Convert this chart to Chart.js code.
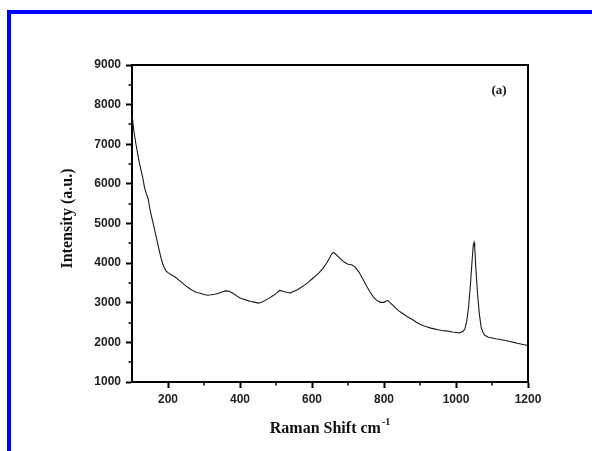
<!DOCTYPE html>
<html>
<head>
<meta charset="utf-8">
<script src="https://cdn.jsdelivr.net/npm/chart.js@4.4.1/dist/chart.umd.min.js"></script>
<style>
  html, body { margin: 0; padding: 0; background: #fff; }
  #wrap { position: relative; width: 592px; height: 451px; overflow: hidden; }
  .blue { position: absolute; background: #0000ff; }
  #frameTop { left: 7px; top: 10px; width: 585px; height: 4px; }
  #frameLeft { left: 7px; top: 10px; width: 4px; height: 441px; }
  #ramanChart { position: absolute; left: 0; top: 0; }
</style>
</head>
<body>
<div id="wrap">
  <div id="frameTop" class="blue"></div>
  <div id="frameLeft" class="blue"></div>
  <canvas id="ramanChart" width="592" height="451"></canvas>
</div>
<script>
  'use strict';

  // Raman shift (cm-1) and intensity (a.u.)
  const shifts = [
    100, 105, 110, 115, 120, 125, 130, 135, 140, 145, 150, 155, 160, 165, 170, 175,
    180, 185, 190, 195, 200, 210, 220, 230, 240, 250, 260, 270, 280, 290, 300, 310,
    320, 330, 340, 350, 360, 370, 380, 390, 400, 410, 420, 430, 440, 450, 460, 470,
    480, 490, 500, 510, 520, 530, 540, 550, 560, 570, 580, 590, 600, 610, 620, 630,
    640, 650, 655, 660, 665, 670, 680, 690, 700, 710, 720, 730, 740, 750, 760, 770,
    780, 790, 800, 810, 820, 830, 840, 850, 860, 870, 880, 890, 900, 910, 920, 930,
    940, 950, 960, 970, 980, 990, 1000, 1010, 1020, 1025, 1030, 1035, 1040, 1045,
    1048, 1050, 1052, 1055, 1060, 1065, 1070, 1075, 1080, 1090, 1100, 1110, 1120,
    1130, 1140, 1150, 1160, 1170, 1180, 1190, 1200
  ];
  const intensity = [
    7750, 7350, 7050, 6800, 6550, 6350, 6150, 5900, 5750, 5620, 5350, 5150, 4950, 4750, 4550, 4350,
    4150, 3990, 3880, 3800, 3760, 3700, 3650, 3570, 3500, 3420, 3360, 3300, 3260, 3240, 3210, 3190,
    3200, 3215, 3240, 3270, 3300, 3290, 3240, 3180, 3120, 3090, 3060, 3030, 3015, 2990, 3010, 3060,
    3110, 3170, 3230, 3310, 3290, 3260, 3250, 3290, 3330, 3390, 3450, 3520, 3600, 3680, 3760, 3860,
    3990, 4150, 4240, 4270, 4230, 4190, 4100, 4020, 3970, 3960, 3900, 3780, 3620, 3450, 3290, 3150,
    3060, 3010, 3010, 3060, 2980, 2890, 2800, 2740, 2680, 2620, 2570, 2510, 2460, 2420, 2390, 2360,
    2340, 2320, 2300, 2290, 2280, 2260, 2250, 2240, 2280, 2350, 2550, 2900, 3450, 4100,
    4450, 4520, 4400, 3900, 3200, 2700, 2380, 2250, 2180, 2130, 2110, 2090, 2080,
    2060, 2040, 2020, 2000, 1980, 1960, 1940, 1920
  ];

  // Labelled (major) and unlabelled (minor) ticks
  const xTicks = [200, 400, 600, 800, 1000, 1200];
  const xMinorTicks = [300, 500, 700, 900, 1100];
  const yTicks = [1000, 2000, 3000, 4000, 5000, 6000, 7000, 8000, 9000];
  const yMinorTicks = [1500, 2500, 3500, 4500, 5500, 6500, 7500, 8500];

  const tickFont = { family: 'Liberation Sans, Arial, sans-serif', size: 12, weight: 'bold' };
  const serif = '"Liberation Serif", "Times New Roman", serif';

  // Minor ticks, closed frame and the serif labels
  const decorPlugin = {
    id: 'decor',
    afterDraw: function(chart) {
      const ctx = chart.ctx;
      const area = chart.chartArea;
      const xs = chart.scales.x;
      const ys = chart.scales.y;

      ctx.save();
      ctx.strokeStyle = '#000';
      ctx.lineWidth = 1.5;
      xMinorTicks.forEach(v => {
        const px = Math.round(xs.getPixelForValue(v));
        ctx.beginPath();
        ctx.moveTo(px, area.bottom);
        ctx.lineTo(px, area.bottom + 3.5);
        ctx.stroke();
      });
      yMinorTicks.forEach(v => {
        const py = Math.round(ys.getPixelForValue(v));
        ctx.beginPath();
        ctx.moveTo(area.left, py);
        ctx.lineTo(area.left - 3.5, py);
        ctx.stroke();
      });

      // top and right edges of the box
      ctx.lineWidth = 2;
      ctx.beginPath();
      ctx.moveTo(area.left, area.top);
      ctx.lineTo(area.right, area.top);
      ctx.lineTo(area.right, area.bottom);
      ctx.stroke();

      ctx.fillStyle = '#111';
      ctx.textBaseline = 'alphabetic';

      // x title with superscript
      const main = 'Raman Shift cm';
      const sup = '-1';
      ctx.font = 'bold 16px ' + serif;
      const wMain = ctx.measureText(main).width;
      ctx.font = 'bold 10px ' + serif;
      const wSup = ctx.measureText(sup).width;
      const cx = (area.left + area.right) / 2;
      const x0 = cx - (wMain + wSup + 1) / 2;
      ctx.font = 'bold 16px ' + serif;
      ctx.textAlign = 'left';
      ctx.fillText(main, x0, 433);
      ctx.font = 'bold 10px ' + serif;
      ctx.fillText(sup, x0 + wMain + 1, 425);

      // y title
      ctx.save();
      ctx.translate(68, (area.top + area.bottom) / 2 - 5);
      ctx.rotate(-Math.PI / 2);
      ctx.font = 'bold 16px ' + serif;
      ctx.textAlign = 'center';
      ctx.textBaseline = 'middle';
      ctx.fillText('Intensity (a.u.)', 0, 0);
      ctx.restore();

      // panel label
      ctx.font = 'bold 13px ' + serif;
      ctx.textAlign = 'center';
      ctx.textBaseline = 'middle';
      ctx.fillText('(a)', 499, 91);
      ctx.restore();
    }
  };

  const canvas = document.getElementById('ramanChart');
  const ctx = canvas.getContext('2d');
  canvas.chartInstance = new Chart(ctx, {
    type: 'line',
    data: {
      datasets: [{
        data: shifts.map((s, i) => ({ x: s, y: intensity[i] })),
        borderColor: '#1a1a1a',
        borderWidth: 1.1,
        pointRadius: 0,
        tension: 0,
        fill: false
      }]
    },
    options: {
      responsive: false,
      animation: false,
      layout: {
        padding: { left: 0, top: 65, right: 64, bottom: 0 }
      },
      plugins: {
        legend: { display: false },
        tooltip: { enabled: false }
      },
      scales: {
        x: {
          type: 'linear',
          min: 100,
          max: 1200,
          afterBuildTicks: function(scale) {
            scale.ticks = xTicks.map(v => ({ value: v }));
          },
          afterFit: function(scale) {
            scale.height = 69;
          },
          grid: {
            drawOnChartArea: false,
            drawTicks: true,
            tickLength: 6,
            tickWidth: 2,
            tickColor: '#000'
          },
          border: { display: true, color: '#000', width: 2 },
          ticks: {
            font: tickFont,
            color: '#222',
            padding: 4,
            maxRotation: 0,
            autoSkip: false,
            callback: function(value) {
              return String(value);
            }
          }
        },
        y: {
          type: 'linear',
          min: 1000,
          max: 9000,
          afterBuildTicks: function(scale) {
            scale.ticks = yTicks.map(v => ({ value: v }));
          },
          afterFit: function(scale) {
            scale.width = 132;
          },
          grid: {
            drawOnChartArea: false,
            drawTicks: true,
            tickLength: 6,
            tickWidth: 2,
            tickColor: '#000'
          },
          border: { display: true, color: '#000', width: 2 },
          ticks: {
            font: tickFont,
            color: '#222',
            padding: 5,
            autoSkip: false,
            callback: function(value) {
              return String(value);
            }
          }
        }
      }
    },
    plugins: [decorPlugin]
  });
</script>
</body>
</html>
